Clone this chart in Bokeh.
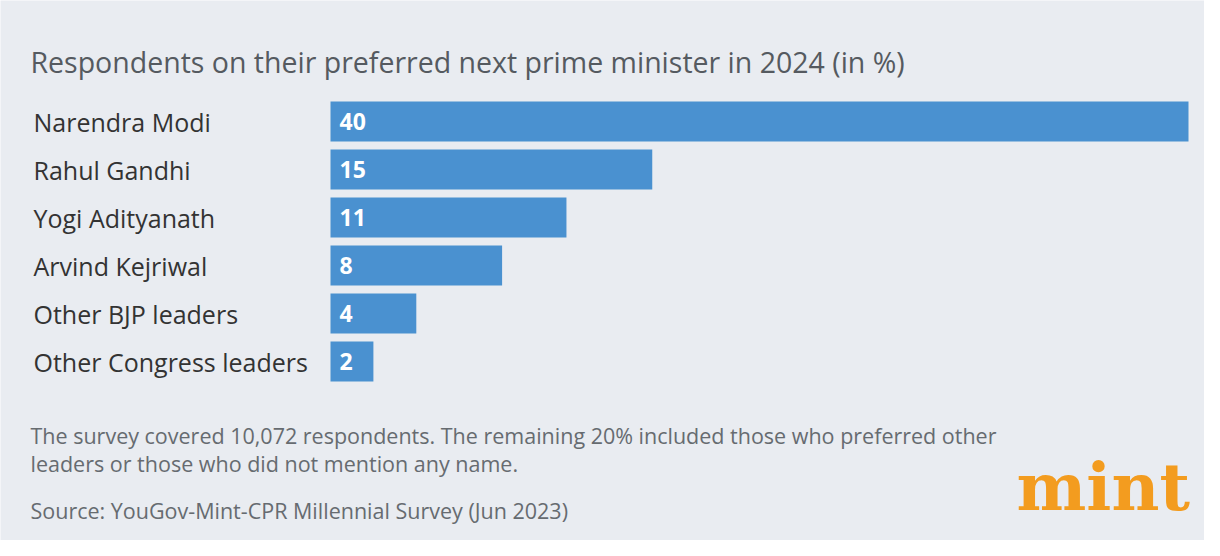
from bokeh.plotting import figure
from bokeh.models import Range1d, Label, ColumnDataSource
from bokeh.core.properties import value
from bokeh.embed import file_html
from bokeh.resources import INLINE

names = ["Narendra Modi", "Rahul Gandhi", "Yogi Adityanath", "Arvind Kejriwal",
         "Other BJP leaders", "Other Congress leaders"]
values = [40, 15, 11, 8, 4, 2]

W, H = 1204, 540
px = 21.45
x0 = 330
row = 48
y0 = 121
p = figure(width=W, height=H, output_backend="svg", toolbar_location=None,
           x_range=Range1d(-x0 / px, (W - x0) / px),
           y_range=Range1d((H - y0) / row, -y0 / row),
           min_border=0, background_fill_color="#e9ecf1", border_fill_color="#e9ecf1")
p.axis.visible = False
p.grid.visible = False
p.outline_line_color = None

idx = list(range(len(names)))
src = ColumnDataSource(dict(y=idx, v=values, n=names, lab=[str(v) for v in values],
                            nx=[-x0 / px + 33 / px] * len(names), z=[0] * len(names)))
p.hbar(y="y", left=0, right="v", height=40 / row, source=src, color="#4a91d0", line_color=None)
p.text(x="nx", y="y", text="n", source=src, text_font=value("Open Sans"), text_font_size="25px",
       text_color="#333333", text_baseline="middle")
p.text(x="z", y="y", text="lab", source=src, x_offset=9, text_font=value("Open Sans"),
       text_font_size="23px", text_font_style="bold", text_color="white", text_baseline="middle")

def lab(t, x, y, size, color, font="Open Sans", style="normal"):
    p.add_layout(Label(x=x, y=H - y, x_units="screen", y_units="screen", text=t,
                       text_font=font, text_font_size=size, text_color=color,
                       text_font_style=style, text_baseline="middle"))

lab("Respondents on their preferred next prime minister in 2024 (in %)", 30, 61, "28.5px", "#555a60")
lab("The survey covered 10,072 respondents. The remaining 20% included those who preferred other", 30, 435, "21.5px", "#666b70")
lab("leaders or those who did not mention any name.", 30, 463, "21.5px", "#666b70")
lab("Source: YouGov-Mint-CPR Millennial Survey (Jun 2023)", 30, 510, "21.5px", "#666b70")
lab("mint", 1016, 486, "66px", "#f39c1f", font="DejaVu Serif", style="bold")

open("out.html", "w").write(file_html(p, INLINE))
